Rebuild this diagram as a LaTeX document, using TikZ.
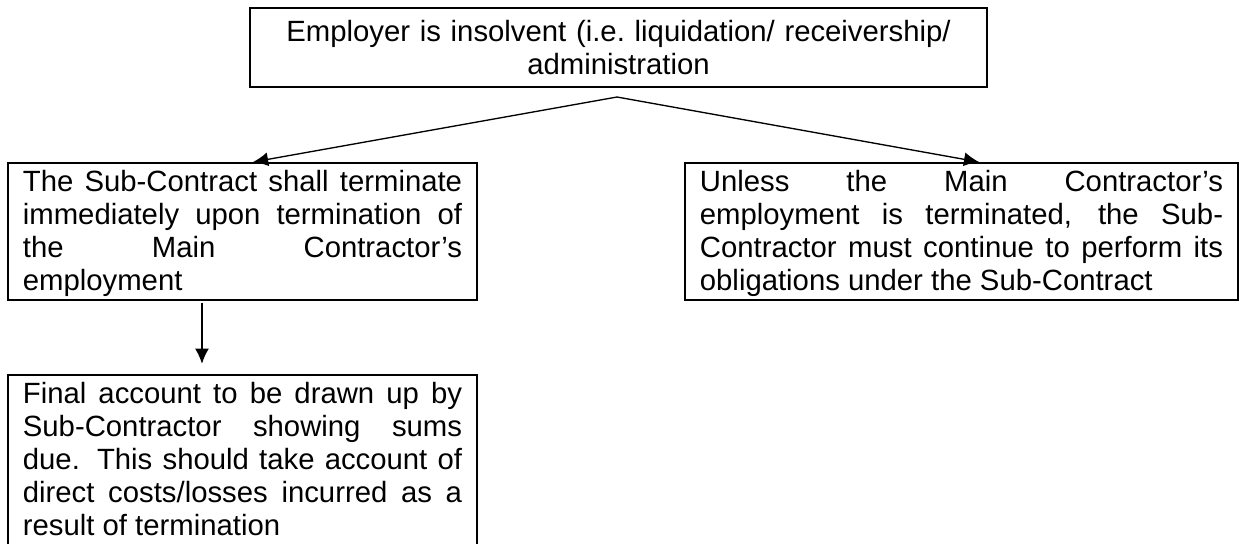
\documentclass[tikz,border=0pt]{standalone}
\usepackage{fontspec}
\setmainfont{Liberation Sans}
\usetikzlibrary{arrows.meta}
\hyphenpenalty=10000
\exhyphenpenalty=10000
\hbadness=10000

\begin{document}
\begin{tikzpicture}[x=0.4096pt,y=-0.4096pt,>={Latex[length=6.2pt,width=5.7pt]},
  box/.style={draw,line width=0.7pt,anchor=north,inner xsep=6.1pt,inner ysep=1pt,
    align=justify,font=\fontsize{12}{13.52}\selectfont,
    execute at begin node=\rule{0pt}{10.9pt},
    execute at end node=\rule[-2.6pt]{0pt}{2.6pt}},
  link/.style={->,line width=0.55pt}]
  \useasboundingbox (0,0) rectangle (1241,543);
  \node[box,align=center,inner ysep=2.7pt,text width=289.7pt] (insolvent) at (618.5,7)
    {Employer is insolvent (i.e.\ liquidation/ receivership/\\ administration};
  \node[box,text width=179.9pt] (terminate) at (242.5,162)
    {The Sub-Contract shall terminate\linebreak immediately upon termination of\linebreak
     the Main Contractor’s\linebreak employment};
  \node[box,text width=214.3pt] (continue) at (961.5,162)
    {Unless the Main Contractor’s\linebreak employment is terminated, the Sub-\linebreak
     Contractor must continue to perform its\linebreak obligations under the Sub-Contract};
  \node[box,text width=179.9pt] (final) at (242.5,374)
    {Final account to be drawn up by\linebreak Sub-Contractor showing sums\linebreak
     due.  This should take account of\linebreak direct costs/losses incurred as a\linebreak
     result of termination};
  \coordinate (fork) at (617,97);
  \draw[link] (fork) -- ([xshift=4.3pt]terminate.north);
  \draw[link] (fork) -- ([xshift=7.2pt]continue.north);
  \draw[link,shorten <=0.8pt,shorten >=4.2pt] ([xshift=-16.6pt]terminate.south) -- ([xshift=-16.6pt]final.north);
\end{tikzpicture}
\end{document}
